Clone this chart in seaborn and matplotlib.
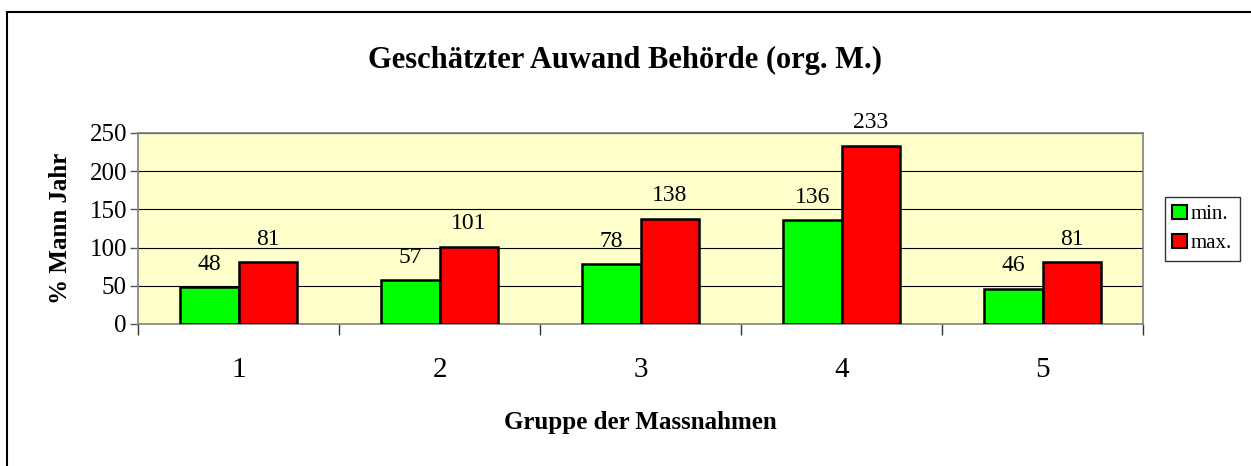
import pandas as pd
import numpy as np
import matplotlib.pyplot as plt
import seaborn as sns
from matplotlib.patches import Rectangle

groups = ["1", "2", "3", "4", "5"]
min_vals = [48, 57, 78, 136, 46]
max_vals = [81, 101, 138, 233, 81]
series = ["min.", "max."]
colors = ["#00FF00", "#FF0000"]

df = pd.DataFrame({
    "Gruppe": groups * 2,
    "Wert": min_vals + max_vals,
    "Serie": [series[0]] * len(groups) + [series[1]] * len(groups),
})

sns.set_style("white")
plt.rcParams["font.family"] = ["Liberation Serif", "DejaVu Serif"]
plt.rcParams["text.color"] = "black"
plt.rcParams["axes.labelcolor"] = "black"
plt.rcParams["xtick.color"] = "black"
plt.rcParams["ytick.color"] = "black"

fig = plt.figure(figsize=(12.51, 4.66), dpi=100)
ax = fig.add_axes([138 / 1251, 1 - 324 / 466, (1143 - 138) / 1251, (324 - 133) / 466])

sns.barplot(data=df, x="Gruppe", y="Wert", hue="Serie", palette=colors, saturation=1,
            width=0.58, edgecolor="black", linewidth=1.8, ax=ax, legend=False,
            zorder=3)

for c in ax.containers:
    ax.bar_label(c, fmt="%d", padding=9, fontsize=17)

ax.set_facecolor("#FFFFCC")
ax.set_ylim(0, 250)
ax.set_xlim(-0.5, 4.5)
ax.set_yticks(np.arange(0, 251, 50))
ax.yaxis.grid(True, color="black", linewidth=0.8, zorder=0)
ax.set_axisbelow(True)
ax.tick_params(axis="y", labelsize=18, length=6, width=1, direction="out", left=True,
               color="#555555", pad=2)
ax.tick_params(axis="x", which="major", labelsize=21, length=0, pad=24)
ax.set_xticks(np.arange(-0.5, 4.6, 1), minor=True)
ax.tick_params(axis="x", which="minor", length=8, width=1, direction="out", bottom=True, color="#333333")
for s in ["left", "bottom", "right", "top"]:
    ax.spines[s].set_color("#808080")
    ax.spines[s].set_linewidth(1.2)

ax.set_ylabel("% Mann Jahr", fontsize=18, fontweight="bold")
ax.yaxis.set_label_coords((72 - 138) / 1005, 0.5)
ax.set_xlabel("Gruppe der Massnahmen", fontsize=18, fontweight="bold")
ax.xaxis.set_label_coords(0.5, (324 - 411) / 191)
fig.text(0.5, 1 - 60 / 466, "Geschätzter Auwand Behörde (org. M.)", ha="center", va="center",
         fontsize=22, fontweight="bold")

handles = [Rectangle((0, 0), 1, 1, facecolor=col, edgecolor="black", linewidth=1.5) for col in colors]
leg = fig.legend(handles, series, loc="center left", bbox_to_anchor=(1165 / 1251, 1 - 229 / 466),
                 fontsize=15, frameon=True, fancybox=False, edgecolor="black",
                 handlelength=0.7, handleheight=0.7, handletextpad=0.2, borderpad=0.35,
                 labelspacing=0.45, borderaxespad=0)
leg.get_frame().set_linewidth(1)

fig.patches.append(Rectangle((7 / 1251, -0.1), 1.2, 1.1 - 12 / 466, transform=fig.transFigure,
                             fill=False, edgecolor="black", linewidth=1.5))

fig.savefig("out.png", dpi=100)
